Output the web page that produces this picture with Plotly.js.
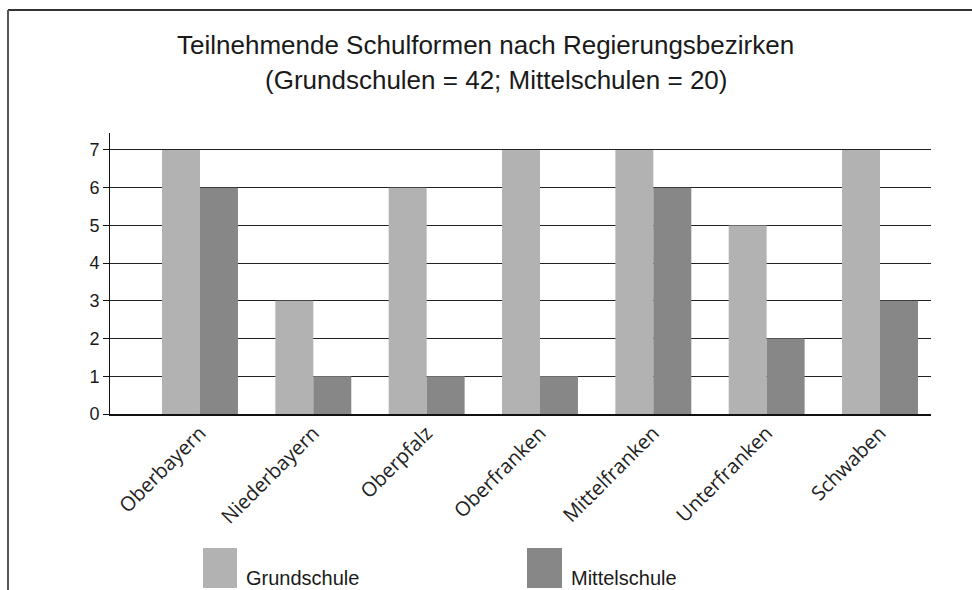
<!DOCTYPE html>
<html>
<head>
<meta charset="utf-8">
<script src="https://cdn.plot.ly/plotly-3.0.1.min.js"></script>
<style>html,body{margin:0;padding:0;background:#fff;}#chart{width:972px;height:590px;}</style>
</head>
<body>
<div id="chart"></div>
<script>
const categories = ["Oberbayern","Niederbayern","Oberpfalz","Oberfranken","Mittelfranken","Unterfranken","Schwaben"];
const grundschule = [7, 3, 6, 7, 7, 5, 7];
const mittelschule = [6, 1, 1, 1, 6, 2, 3];
const seriesNames = ["Grundschule", "Mittelschule"];
const seriesColors = ["#b2b2b2", "#878787"];
const titleLines = ["Teilnehmende Schulformen nach Regierungsbezirken", "(Grundschulen = 42; Mittelschulen = 20)"];
const yTicks = [0,1,2,3,4,5,6,7];

// plot area pixel geometry helpers
const L = 110, R = 931, T = 133, B = 414;
const px = x => (x - L) / (R - L);
const py = y => (B - y) / (B - T);

const traces = [
  {type:'bar', x:categories, y:grundschule, name:seriesNames[0], marker:{color:seriesColors[0]}},
  {type:'bar', x:categories, y:mittelschule, name:seriesNames[1], marker:{color:seriesColors[1]}}
];

const labelFont = {family:'Liberation Sans, Arial, sans-serif', size:20, color:'#1a1a1a'};
const titleFont = {family:'Liberation Sans, Arial, sans-serif', size:26, color:'#1a1a1a'};

const shapes = [
  {type:'line', xref:'paper', yref:'paper', x0:px(8), x1:px(972), y0:py(10), y1:py(10), line:{color:'#333', width:2}},
  {type:'line', xref:'paper', yref:'paper', x0:px(8), x1:px(8), y0:py(10), y1:py(592), line:{color:'#555', width:2}},
  {type:'rect', xref:'paper', yref:'paper', x0:px(203), x1:px(237), y0:py(548), y1:py(588), fillcolor:seriesColors[0], line:{width:0}},
  {type:'rect', xref:'paper', yref:'paper', x0:px(527), x1:px(562), y0:py(548), y1:py(588), fillcolor:seriesColors[1], line:{width:0}}
];

const annotations = [
  {xref:'paper', yref:'paper', x:px(485), y:py(45), text:titleLines[0], showarrow:false, font:titleFont, xanchor:'center', yanchor:'middle'},
  {xref:'paper', yref:'paper', x:px(496), y:py(80), text:titleLines[1], showarrow:false, font:titleFont, xanchor:'center', yanchor:'middle'},
  {xref:'paper', yref:'paper', x:px(244), y:py(578), text:seriesNames[0], showarrow:false, font:labelFont, xanchor:'left', yanchor:'middle'},
  {xref:'paper', yref:'paper', x:px(569), y:py(578), text:seriesNames[1], showarrow:false, font:labelFont, xanchor:'left', yanchor:'middle'}
];

const layout = {
  width:972, height:590,
  margin:{l:L, r:972-R, t:T, b:590-B, pad:0},
  paper_bgcolor:'#fff', plot_bgcolor:'#fff',
  showlegend:false,
  barmode:'group', bargap:0.33, bargroupgap:0,
  xaxis:{type:'category', range:[-0.794, 6.45], tickangle:-45, showline:true, linecolor:'#111', linewidth:1.5,
         ticks:'', showgrid:false, zeroline:false, ticklabelstandoff:-2,
         tickfont:{family:'Open Sans, Noto Sans, sans-serif', size:20, color:'#222'}},
  yaxis:{range:[0, 7.45], tickvals:yTicks, ticks:'outside', ticklen:6, tickcolor:'#111', showline:true, linecolor:'#111', linewidth:1,
         showgrid:true, gridcolor:'#222', gridwidth:1, zeroline:false,
         tickfont:{family:'Liberation Sans, Arial, sans-serif', size:18, color:'#1a1a1a'}},
  shapes:shapes,
  annotations:annotations
};

Plotly.newPlot('chart', traces, layout, {displayModeBar:false, staticPlot:true});
</script>
</body>
</html>
